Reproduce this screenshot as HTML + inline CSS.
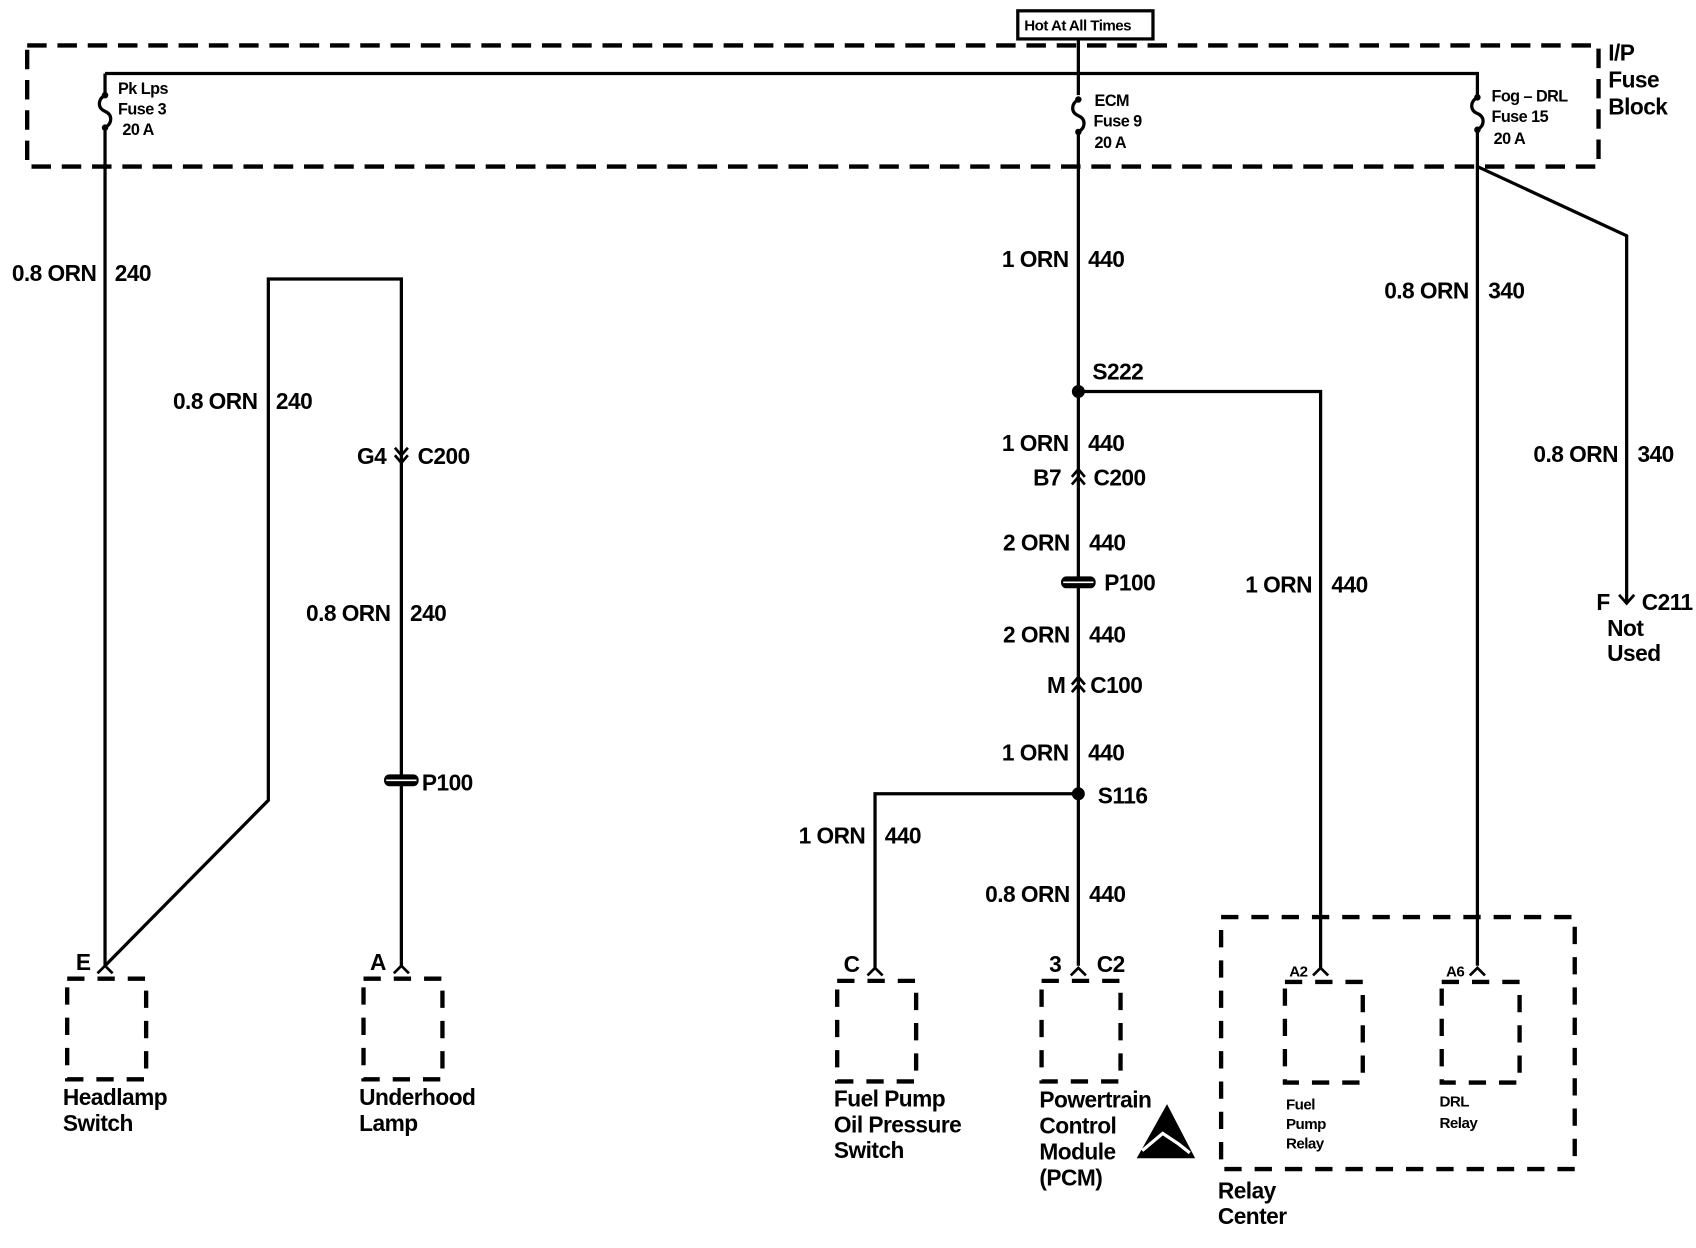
<!DOCTYPE html>
<html><head><meta charset="utf-8"><style>
html,body{margin:0;padding:0;background:#fff;}
svg{display:block}
text{font-family:"Liberation Sans",Arial,sans-serif;font-weight:bold;fill:#000;letter-spacing:-0.5px}
</style></head><body>
<svg width="1696" height="1248" viewBox="0 0 1568 1154" xmlns="http://www.w3.org/2000/svg">
<rect x="0" y="0" width="1568" height="1154" fill="#fff"/>
<g fill="none" stroke="#000">
 <!-- hot at all times box -->
 <rect x="941" y="10" width="125" height="26" stroke-width="3"/>
 <!-- fuse block dashed -->
 <rect x="25" y="42" width="1453" height="112" stroke-width="4" stroke-dasharray="18,10"/>
 <!-- bus -->
 <path d="M997 36 V68 M97 68 H1366 V88 M97 68 V88 M997 68 V88" stroke-width="3"/>
 <!-- fuses -->
 <path d="M97 88 C90 92 90 100 97 103 C104 106 104 114 97 118" stroke-width="3"/>
 <path d="M997 92 C990 96 990 104 997 107 C1004 110 1004 118 997 122" stroke-width="3"/>
 <path d="M1366 90 C1359 94 1359 102 1366 105 C1373 108 1373 116 1366 120" stroke-width="3"/>
 <!-- main wires -->
 <path d="M97 118 V893" stroke-width="3"/>
 <path d="M997 122 V893" stroke-width="3"/>
 <path d="M1366 120 V893" stroke-width="3"/>
 <path d="M1366 154 L1504 218 V558" stroke-width="3"/>
 <path d="M1497 550 L1504 558 L1511 550" stroke-width="2.5"/>
 <!-- headlamp loop -->
 <path d="M97 893 L248 740 V258 H371 V893" stroke-width="3"/>
 <!-- S222 branch -->
 <path d="M997 362 H1221 V895" stroke-width="3"/>
 <!-- S116 branch -->
 <path d="M997 734 H809 V895" stroke-width="3"/>
 <!-- connector chevrons -->
 <path d="M365 414 L371 421 L377 414 M365 421 L371 428 L377 421" stroke-width="2.5"/>
 <path d="M991 448 L997 441 L1003 448 M991 441 L997 434 L1003 441" stroke-width="2.5"/>
 <path d="M991 640 L997 633 L1003 640 M991 633 L997 626 L1003 633" stroke-width="2.5"/>
 <!-- terminal chevrons at components -->
 <path d="M90 900 L97 893 L104 900" stroke-width="2.5"/>
 <path d="M364 900 L371 893 L378 900" stroke-width="2.5"/>
 <path d="M802 902 L809 895 L816 902" stroke-width="2.5"/>
 <path d="M990 902 L997 895 L1004 902" stroke-width="2.5"/>
 <path d="M1214 902 L1221 895 L1228 902" stroke-width="2.5"/>
 <path d="M1359 902 L1366 895 L1373 902" stroke-width="2.5"/>
 <!-- component dashed boxes -->
 <g stroke-width="4" stroke-dasharray="16,12">
  <rect x="62" y="905" width="73" height="93"/>
  <rect x="336" y="905" width="73" height="93"/>
  <rect x="774" y="907" width="73" height="93"/>
  <rect x="963" y="907" width="73" height="93"/>
  <rect x="1188" y="908" width="72" height="93"/>
  <rect x="1333" y="908" width="72" height="93"/>
  <rect x="1129" y="848" width="327" height="233"/>
 </g>
</g>
<!-- splices -->
<circle cx="997" cy="362" r="6"/>
<circle cx="997" cy="734" r="6"/>
<!-- inline connectors P100 -->
<rect x="981" y="533" width="32" height="11" rx="5"/>
<line x1="983" y1="538.5" x2="1011" y2="538.5" stroke="#fff" stroke-width="1.5"/>
<rect x="355" y="716" width="32" height="11" rx="5"/>
<line x1="357" y1="721.5" x2="385" y2="721.5" stroke="#fff" stroke-width="1.5"/>
<!-- fuse dots -->
<circle cx="97" cy="88" r="3"/><circle cx="97" cy="118" r="3"/>
<circle cx="997" cy="92" r="3"/><circle cx="997" cy="122" r="3"/>
<circle cx="1366" cy="90" r="3"/><circle cx="1366" cy="120" r="3"/>
<!-- ESD triangle -->
<polygon points="1079,1021 1105,1071 1051,1071"/>
<path d="M1056 1064 L1075 1048 L1090 1058 L1100 1066" stroke="#fff" stroke-width="3" fill="none"/>

<g font-size="15">
 <text x="947" y="28" font-size="14">Hot At All Times</text>
 <text x="109" y="87">Pk Lps</text><text x="109" y="106">Fuse 3</text><text x="113" y="125">20 A</text>
 <text x="1012" y="98">ECM</text><text x="1011" y="117">Fuse 9</text><text x="1012" y="137">20 A</text>
 <text x="1379" y="94">Fog – DRL</text><text x="1379" y="113">Fuse 15</text><text x="1381" y="133">20 A</text>
</g>
<g font-size="21">
 <text x="1487" y="56">I/P</text><text x="1487" y="81">Fuse</text><text x="1487" y="106">Block</text>
 <text x="89" y="260" text-anchor="end">0.8 ORN</text><text x="106" y="260">240</text>
 <text x="238" y="378" text-anchor="end">0.8 ORN</text><text x="255" y="378">240</text>
 <text x="357" y="429" text-anchor="end">G4</text><text x="386" y="429">C200</text>
 <text x="361" y="574" text-anchor="end">0.8 ORN</text><text x="379" y="574">240</text>
 <text x="390" y="731">P100</text>
 <text x="988" y="247" text-anchor="end">1 ORN</text><text x="1006" y="247">440</text>
 <text x="1010" y="351">S222</text>
 <text x="988" y="417" text-anchor="end">1 ORN</text><text x="1006" y="417">440</text>
 <text x="981" y="449" text-anchor="end">B7</text><text x="1011" y="449">C200</text>
 <text x="989" y="509" text-anchor="end">2 ORN</text><text x="1007" y="509">440</text>
 <text x="1021" y="546">P100</text>
 <text x="989" y="594" text-anchor="end">2 ORN</text><text x="1007" y="594">440</text>
 <text x="985" y="641" text-anchor="end">M</text><text x="1008" y="641">C100</text>
 <text x="988" y="703" text-anchor="end">1 ORN</text><text x="1006" y="703">440</text>
 <text x="1015" y="743">S116</text>
 <text x="800" y="780" text-anchor="end">1 ORN</text><text x="818" y="780">440</text>
 <text x="989" y="834" text-anchor="end">0.8 ORN</text><text x="1007" y="834">440</text>
 <text x="1213" y="548" text-anchor="end">1 ORN</text><text x="1231" y="548">440</text>
 <text x="1358" y="276" text-anchor="end">0.8 ORN</text><text x="1376" y="276">340</text>
 <text x="1496" y="427" text-anchor="end">0.8 ORN</text><text x="1514" y="427">340</text>
 <text x="1476" y="564">F</text><text x="1518" y="564">C211</text>
 <text x="1486" y="588">Not</text><text x="1486" y="611">Used</text>
 <text x="70" y="897">E</text>
 <text x="342" y="897">A</text>
 <text x="780" y="899">C</text>
 <text x="970" y="899">3</text><text x="1014" y="899">C2</text>
 <text x="58" y="1022">Headlamp</text><text x="58" y="1046">Switch</text>
 <text x="332" y="1022">Underhood</text><text x="332" y="1046">Lamp</text>
 <text x="771" y="1023">Fuel Pump</text><text x="771" y="1047">Oil Pressure</text><text x="771" y="1071">Switch</text>
 <text x="961" y="1024">Powertrain</text><text x="961" y="1048">Control</text><text x="961" y="1072">Module</text><text x="961" y="1096">(PCM)</text>
 <text x="1126" y="1108">Relay</text><text x="1126" y="1132">Center</text>
</g>
<g font-size="14">
 <text x="1192" y="903">A2</text><text x="1337" y="903">A6</text>
 <text x="1189" y="1026">Fuel</text><text x="1189" y="1044">Pump</text><text x="1189" y="1062">Relay</text>
 <text x="1331" y="1023">DRL</text><text x="1331" y="1043">Relay</text>
</g>
</svg>
</body></html>
